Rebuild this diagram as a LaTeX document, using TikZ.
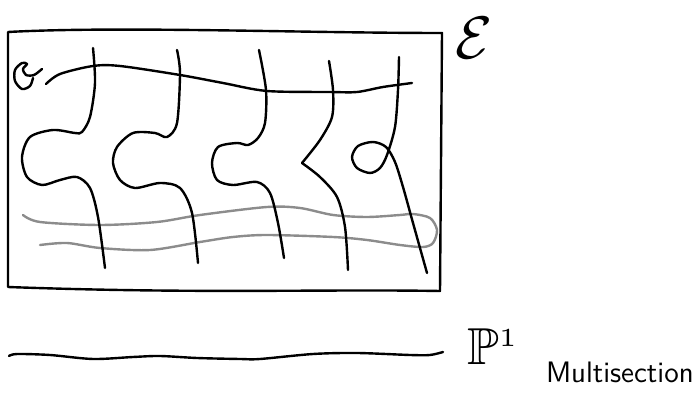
\documentclass[tikz,border=0pt]{standalone}
\usepackage{amsmath}
\usepackage{amssymb}
\usetikzlibrary{positioning}
\tikzstyle{ink} = [line width=1.2pt, line cap=round, line join=round]
\tikzstyle{band} = [ink, draw=black!45]
\tikzstyle{tag} = [inner sep=0pt, outer sep=0pt]
\begin{document}
\begin{tikzpicture}[x=0.5pt, y=-0.5pt]
    \useasboundingbox (0,0) rectangle (695,394);
    % Surface
    \draw[ink] (8,32) .. controls (120,26) and (300,33) .. (442,33) -- (440,291)
        .. controls (320,289) and (200,294) .. (8,287) -- cycle;
    % Grey loop
    \draw[band] plot[smooth] coordinates {(23,215) (40,222) (100,225) (157,222) (200,215) (267,207) (300,208) (333,215) (367,217) (400,215) (413,214) (430,218) (437,230) (433,243) (423,247) (400,245) (367,240) (333,237) (267,235) (233,237) (200,242) (150,250) (100,248) (67,243) (40,245)};
    % Section
    \draw[ink] plot[smooth] coordinates {(42,69) (34,75) (26,75) (23,69) (27,64) (22,63) (15,70) (15,81) (22,89) (30,86) (33,78)};
    \draw[ink] plot[smooth] coordinates {(46,84) (60,74) (93,66) (120,66) (180,75) (223,83) (267,91) (330,92) (357,92) (383,87) (412,83)};
    % Fibres
    \draw[ink] plot[smooth] coordinates {(93,48) (95,83) (90,117) (82,132) (75,133) (53,130) (30,137) (22,157) (27,177) (42,185) (60,180) (77,177) (90,188) (98,217) (105,268)};
    \draw[ink] plot[smooth] coordinates {(177,50) (180,73) (177,123) (167,137) (155,133) (133,133) (117,147) (113,163) (120,180) (135,188) (160,183) (180,188) (192,213) (198,263)};
    \draw[ink] plot[smooth] coordinates {(259,50) (266,90) (265,123) (258,138) (248,145) (237,143) (218,147) (212,163) (217,180) (233,185) (257,182) (270,193) (278,223) (284,258)};
    \draw[ink] plot[smooth] coordinates {(329,61) (333,90) (332,117) (320,140) (302,163)};
    \draw[ink] plot[smooth] coordinates {(302,163) (320,177) (337,197) (345,227) (348,270)};
    \draw[ink] plot[smooth] coordinates {(399,57) (398,90) (395,127) (387,155) (380,168) (370,173) (357,168) (352,157) (358,146) (373,142) (386,147) (395,162) (403,187) (413,223) (427,273)};
    % Base curve
    \draw[ink] plot[smooth] coordinates {(9,356) (17,354) (50,355) (93,359) (133,357) (160,356) (197,358) (240,359) (260,359) (313,354) (357,353) (410,355) (430,355) (443,352)};
    % Labels
    \node[tag, scale=3] (sheaf) at (474,38) {$\mathcal{E}$};
    \node[tag, scale=2.6, anchor=base west] (base) at (467,365) {$\mathbb{P}^{\scriptscriptstyle 1}$};
    \node[tag, anchor=base west, font=\fontsize{14.8}{18}\selectfont\sffamily] (caption) at (546,383) {Multisection};
\end{tikzpicture}
\end{document}
